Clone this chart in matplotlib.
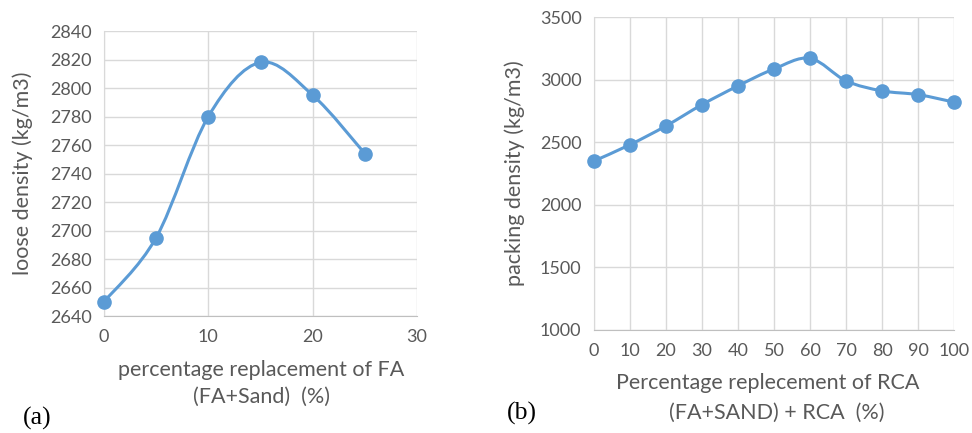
import numpy as np
import matplotlib
matplotlib.use("Agg")
import matplotlib.pyplot as plt
from matplotlib.path import Path
from matplotlib.patches import PathPatch

# ---- data ----
fa_x = [0, 5, 10, 15, 20, 25]
fa_loose = [2650, 2695, 2780, 2818, 2795, 2754]
fa_xticks = [0, 10, 20, 30]
fa_yticks = [2640, 2660, 2680, 2700, 2720, 2740, 2760, 2780, 2800, 2820, 2840]

rca_x = [0, 10, 20, 30, 40, 50, 60, 70, 80, 90, 100]
rca_packing = [2350, 2480, 2630, 2800, 2950, 3085, 3170, 2990, 2910, 2880, 2820]
rca_xticks = [0, 10, 20, 30, 40, 50, 60, 70, 80, 90, 100]
rca_yticks = [1000, 1500, 2000, 2500, 3000, 3500]

LINE = "#5b9bd5"
GRID = "#d9d9d9"
TXT = "#595959"
FONT = "Lato"
LBL = 15.5

W, H = 972, 433
fig = plt.figure(figsize=(W / 100, H / 100), dpi=100)


def px_axes(l, t, r, b):
    return fig.add_axes([l / W, 1 - b / H, (r - l) / W, (b - t) / H])


def smooth_path(xs, ys):
    P = np.column_stack([xs, ys]).astype(float)
    n = len(P)
    verts = [P[0]]
    codes = [Path.MOVETO]
    for i in range(n - 1):
        p0 = P[i - 1] if i > 0 else P[i]
        p1 = P[i]
        p2 = P[i + 1]
        p3 = P[i + 2] if i + 2 < n else P[i + 1]
        c1 = p1 + (p2 - p0) / 6.0
        c2 = p2 - (p3 - p1) / 6.0
        verts += [c1, c2, p2]
        codes += [Path.CURVE4] * 3
    return Path(verts, codes)


def style(ax, xticks, yticks, xlim, ylim):
    ax.set_xlim(*xlim)
    ax.set_ylim(*ylim)
    ax.set_xticks(xticks)
    ax.set_yticks(yticks)
    ax.grid(True, color=GRID, linewidth=1.0)
    ax.set_axisbelow(True)
    for s in ax.spines.values():
        s.set_visible(False)
    ax.spines["left"].set_visible(True)
    ax.spines["bottom"].set_visible(True)
    ax.spines["left"].set_color(GRID)
    ax.spines["bottom"].set_color("#bfbfbf")
    ax.tick_params(length=0, labelsize=13, labelcolor=TXT, pad=9)
    for lab in ax.get_xticklabels() + ax.get_yticklabels():
        lab.set_fontfamily(FONT)


# ---- left chart ----
ax1 = px_axes(104, 31, 417, 316)
style(ax1, fa_xticks, fa_yticks, (0, 30), (2640, 2840))
ax1.add_patch(PathPatch(smooth_path(fa_x, fa_loose), fill=False,
                        edgecolor=LINE, linewidth=2.2, zorder=3,
                        capstyle="round", joinstyle="round"))
ax1.plot(fa_x, fa_loose, linestyle="none", marker="o", markersize=9.5,
         color=LINE, zorder=4, clip_on=False)

fig.text(23 / W, 1 - 173 / H, "loose density (kg/m3)", rotation=90,
         ha="center", va="center", fontsize=LBL, color=TXT, family=FONT)
fig.text(261 / W, 1 - 370 / H, "percentage replacement of FA",
         ha="center", va="center", fontsize=LBL, color=TXT, family=FONT)
fig.text(261 / W, 1 - 397 / H, "(FA+Sand)  (%)",
         ha="center", va="center", fontsize=LBL, color=TXT, family=FONT)
fig.text(23 / W, 1 - 418 / H, "(a)", ha="left", va="center",
         fontsize=18.5, color="black", family="Liberation Serif")

# ---- right chart ----
ax2 = px_axes(594, 17, 954, 330)
style(ax2, rca_xticks, rca_yticks, (0, 100), (1000, 3500))
ax2.add_patch(PathPatch(smooth_path(rca_x, rca_packing), fill=False,
                        edgecolor=LINE, linewidth=2.2, zorder=3,
                        capstyle="round", joinstyle="round"))
ax2.plot(rca_x, rca_packing, linestyle="none", marker="o", markersize=9.5,
         color=LINE, zorder=4, clip_on=False)

fig.text(515 / W, 1 - 173 / H, "packing density (kg/m3)", rotation=90,
         ha="center", va="center", fontsize=LBL, color=TXT, family=FONT)
fig.text(768 / W, 1 - 383 / H, "Percentage replecement of RCA",
         ha="center", va="center", fontsize=LBL, color=TXT, family=FONT)
fig.text(777 / W, 1 - 413 / H, "(FA+SAND) + RCA  (%)",
         ha="center", va="center", fontsize=LBL, color=TXT, family=FONT)
fig.text(507 / W, 1 - 413 / H, "(b)", ha="left", va="center",
         fontsize=18.5, color="black", family="Liberation Serif")

fig.savefig("out.png", dpi=100, facecolor="white")
